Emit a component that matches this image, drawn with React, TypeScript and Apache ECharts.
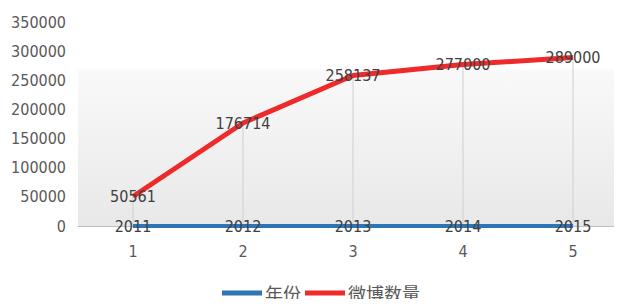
import React, { useEffect, useRef } from "react";
import * as echarts from "echarts";

const categories = ["1", "2", "3", "4", "5"];
const years = [2011, 2012, 2013, 2014, 2015];
const weibo = [50561, 176714, 258137, 277000, 289000];
const yearDisplay = [0, 0, 0, 0, 0];
const yTicks = { min: 0, max: 350000, interval: 50000 };

const FONT = "'DejaVu Sans Condensed', 'Liberation Sans', 'Noto Sans CJK SC', sans-serif";
const CJK = "'Noto Sans CJK SC', sans-serif";

export default function App() {
  const ref = useRef<HTMLDivElement>(null);
  useEffect(() => {
    if (!ref.current) return;
    const chart = echarts.init(ref.current, undefined, { renderer: "svg" });
    chart.setOption({
      animation: false,
      backgroundColor: "#ffffff",
      textStyle: { fontFamily: FONT },
      grid: {
        left: 78,
        top: 22,
        right: 0,
        height: 204,
        show: true,
        borderWidth: 0,
        backgroundColor: {
          type: "linear",
          x: 0, y: 0, x2: 0, y2: 1,
          colorStops: [
            { offset: 0, color: "#ffffff" },
            { offset: 0.23, color: "#ffffff" },
            { offset: 0.235, color: "#f9f9f9" },
            { offset: 1, color: "#e8e8e8" },
          ],
        },
      },
      legend: {
        data: ["年份", "微博数量"],
        top: 283,
        left: 222,
        padding: 0,
        icon: "rect",
        itemWidth: 40,
        itemHeight: 5,
        itemGap: 4,
        textStyle: { fontFamily: CJK, fontSize: 18, lineHeight: 20, color: "#595959", padding: [0, 0, 0, -2] },
      },
      xAxis: {
        type: "category",
        data: categories,
        boundaryGap: true,
        axisLine: { lineStyle: { color: "#bfbfbf", width: 1 } },
        axisTick: { show: false },
        axisLabel: { fontSize: 16, color: "#595959", margin: 17, fontFamily: FONT },
        splitLine: { show: false },
      },
      yAxis: {
        type: "value",
        min: yTicks.min,
        max: yTicks.max,
        interval: yTicks.interval,
        axisLine: { show: false },
        axisTick: { show: false },
        splitLine: { show: false },
        axisLabel: {
          fontSize: 16,
          color: "#595959",
          margin: 12,
          fontFamily: FONT,
          formatter: (v: number) => String(v),
        },
      },
      series: [
        {
          name: "drop",
          type: "bar",
          data: weibo,
          barWidth: 1,
          silent: true,
          itemStyle: { color: "#cfcfcf" },
          z: 1,
        },
        {
          name: "年份",
          type: "line",
          data: yearDisplay.map((v, i) => ({ value: v, label: { formatter: String(years[i]) } })),
          symbol: "circle",
          symbolSize: 0.1,
          lineStyle: { color: "#2e75b6", width: 4 },
          itemStyle: { color: "#2e75b6" },
          label: {
            show: true,
            position: "inside",
            fontSize: 16,
            color: "#404040",
            fontFamily: FONT,
          },
          z: 3,
        },
        {
          name: "微博数量",
          type: "line",
          data: weibo,
          symbol: "circle",
          symbolSize: 0.1,
          lineStyle: { color: "#ee2a2a", width: 5 },
          itemStyle: { color: "#ee2a2a" },
          label: {
            show: true,
            position: "inside",
            fontSize: 16,
            color: "#404040",
            fontFamily: FONT,
          },
          z: 4,
        },
      ],
    });
    return () => chart.dispose();
  }, []);
  return (
    <div style={{ width: 622, height: 307, margin: -8, overflow: "hidden" }}>
      <div ref={ref} style={{ width: 628, height: 307 }} />
    </div>
  );
}
